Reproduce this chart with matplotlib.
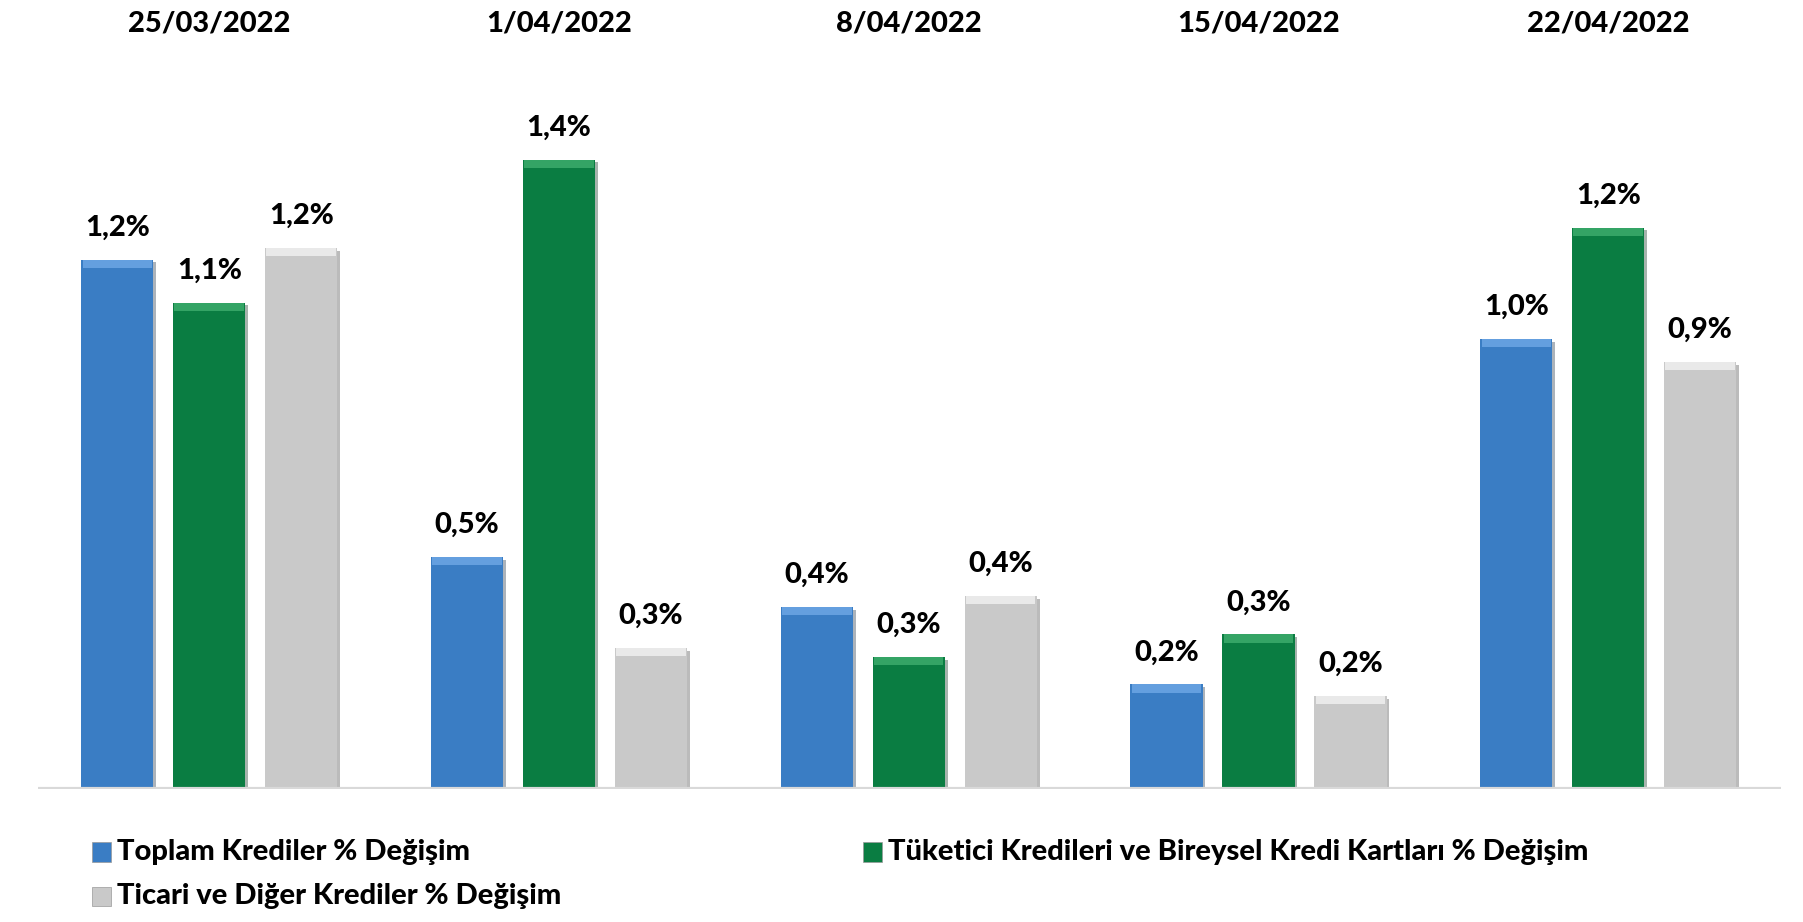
import numpy as np
import matplotlib
matplotlib.use("Agg")
import matplotlib.pyplot as plt
from matplotlib.patches import Rectangle
from matplotlib import patheffects as pe
from matplotlib.transforms import blended_transform_factory

dates = ['25/03/2022', '1/04/2022', '8/04/2022', '15/04/2022', '22/04/2022']
series = ['Toplam Krediler % Değişim',
          'Tüketici Kredileri ve Bireysel Kredi Kartları % Değişim',
          'Ticari ve Diğer Krediler % Değişim']
toplam = [1.165, 0.51, 0.40, 0.23, 0.99]
tuketici = [1.07, 1.385, 0.29, 0.34, 1.235]
ticari = [1.19, 0.31, 0.425, 0.205, 0.94]

colors = ['#3A7DC4', '#0A7D42', '#C9C9C9']
tops = ['#6FA8E6', '#3FAF6E', '#F2F2F2']

plt.rcParams['font.family'] = ['Lato', 'DejaVu Sans']
FW = 900
FS = 21

fig = plt.figure(figsize=(18.03, 9.22), dpi=100)
ax = fig.add_axes([0.021, 0.1443, 0.967, 0.764])

x = np.arange(len(dates))
step = 0.263
width = 0.207
bevel = 0.018
for k, vals in enumerate([toplam, tuketici, ticari]):
    pos = x + (k - 1) * step
    bars = ax.bar(pos, vals, width, color=colors[k], zorder=2,
                  path_effects=[pe.SimplePatchShadow(offset=(2, -2), alpha=0.35), pe.Normal()])
    # lighter bevel on the top of each bar
    ax.bar(pos, [bevel] * len(vals), width * 0.96, bottom=np.array(vals) - bevel,
           color=tops[k], alpha=0.8, zorder=3, linewidth=0)
    for p, v in zip(pos, vals):
        ax.annotate(('%.1f%%' % v).replace('.', ','), (p, v), xytext=(0, 23),
                    textcoords='offset points', ha='center', va='center',
                    fontsize=FS, fontweight=FW)

ax.set_xlim(-0.49, 4.495)
ax.set_ylim(0, 1.55)
ax.axhline(0, color='#D9D9D9', lw=3, zorder=4)
ax.axis('off')

tr = blended_transform_factory(ax.transData, fig.transFigure)
for i, d in enumerate(dates):
    ax.text(i, 0.975, d, transform=tr, ha='center', va='center',
            fontsize=FS, fontweight=FW)

# legend
leg_pos = [(0.051, 0.076), (0.4787, 0.076), (0.051, 0.028)]
for k, (lx, ly) in enumerate(leg_pos):
    fig.patches.append(Rectangle((lx, ly - 0.0105), 0.0105, 0.021, transform=fig.transFigure,
                                 facecolor=colors[k], edgecolor='#999999', lw=0.5))
    fig.text(lx + 0.014, ly, series[k], ha='left', va='center', fontsize=FS, fontweight=FW)

fig.savefig('out.png', dpi=100)
